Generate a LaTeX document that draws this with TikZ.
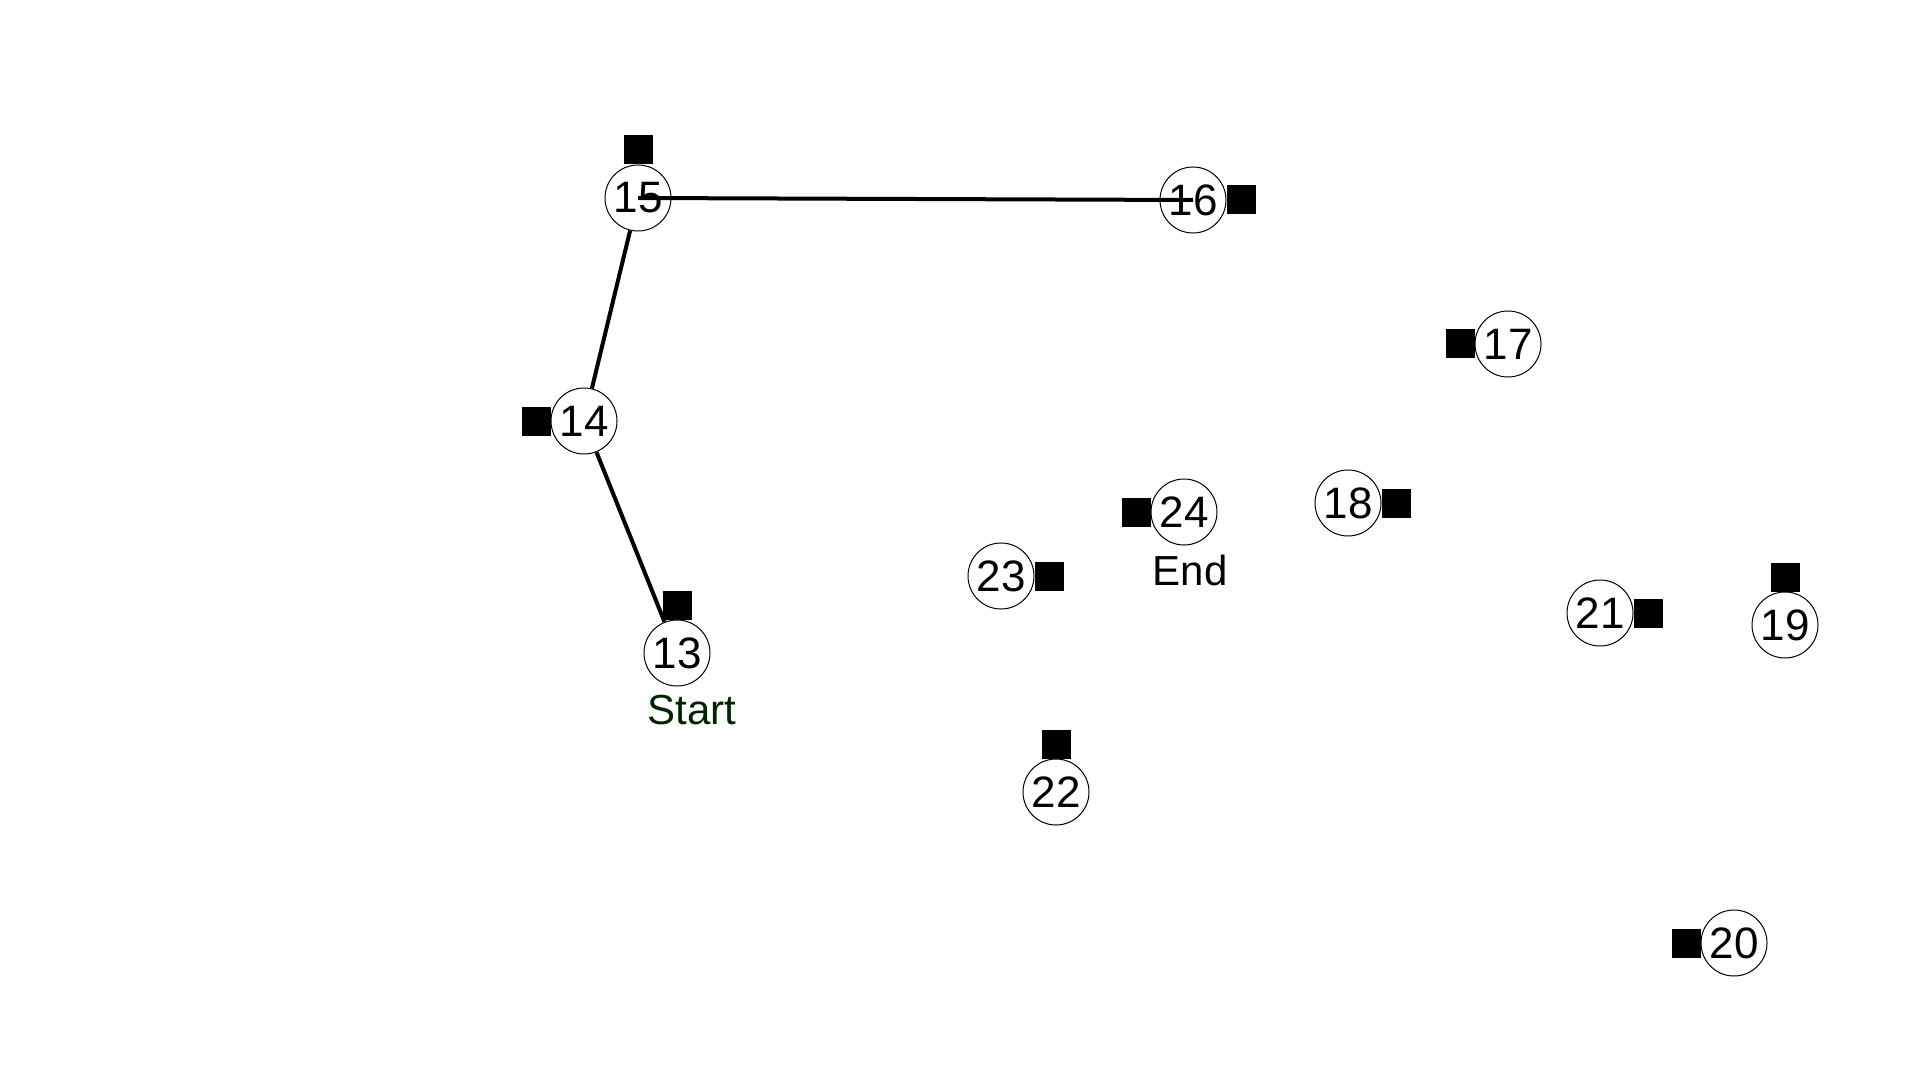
\documentclass[tikz,border=0pt]{standalone}
\usepackage{fontspec}
\setmainfont{Liberation Sans}
\usetikzlibrary{positioning}
\definecolor{startgreen}{RGB}{0,36,0}

\tikzset{
  stop/.style={draw,circle,fill=white,line width=0.5pt,minimum size=33pt,inner sep=0pt,
    font=\fontsize{22}{24}\selectfont},
  tag/.style={fill=black,minimum size=14.5pt,inner sep=0pt,outer sep=0pt},
  tourlabel/.style={anchor=base,inner sep=0pt,font=\fontsize{21}{24}\selectfont},
  route/.style={line width=2pt}
}

\begin{document}
\begin{tikzpicture}[x=0.5pt,y=-0.5pt]
  \useasboundingbox (0,0) rectangle (1920,1080);
  % stops
  \node[stop] (n13) at (677,653)  {13};
  \node[stop] (n14) at (584,421)  {14};
  \node[stop] (n15) at (638,198)  {15};
  \node[stop] (n16) at (1193,200) {16};
  \node[stop] (n17) at (1508,344) {17};
  \node[stop] (n18) at (1348,503) {18};
  \node[stop] (n19) at (1785,625) {19};
  \node[stop] (n20) at (1734,943) {20};
  \node[stop] (n21) at (1600,613) {21};
  \node[stop] (n22) at (1056,792) {22};
  \node[stop] (n23) at (1001,576) {23};
  \node[stop] (n24) at (1184,512) {24};
  % square tags beside the stops
  \node[tag, above=0pt of n13] (t13) {};
  \node[tag, left=0pt of n14]  (t14) {};
  \node[tag, above=0pt of n15] (t15) {};
  \node[tag, right=0pt of n16] (t16) {};
  \node[tag, left=0pt of n17]  (t17) {};
  \node[tag, right=0pt of n18] (t18) {};
  \node[tag, above=0pt of n19] (t19) {};
  \node[tag, left=0pt of n20]  (t20) {};
  \node[tag, right=0pt of n21] (t21) {};
  \node[tag, above=0pt of n22] (t22) {};
  \node[tag, right=0pt of n23] (t23) {};
  \node[tag, left=0pt of n24]  (t24) {};
  % start and end
  \node[tourlabel, text=startgreen] (start) at (692,724) {Start};
  \node[tourlabel] (end) at (1190,585) {End};
  % route so far
  \draw[route] (n13) -- (n14);
  \draw[route] (n14) -- (n15);
  \draw[route] (n15.center) -- (n16.center);
\end{tikzpicture}
\end{document}
